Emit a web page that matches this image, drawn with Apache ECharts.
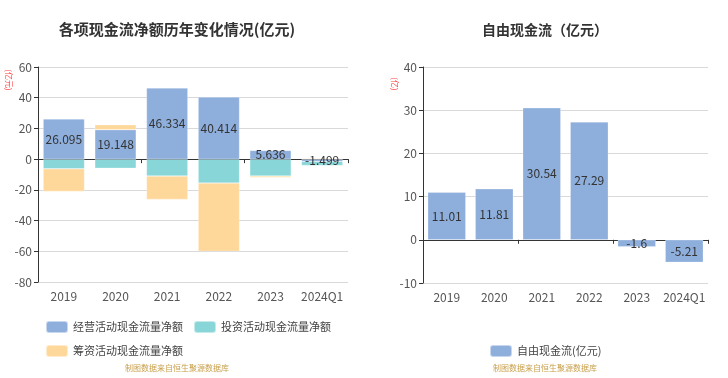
<!DOCTYPE html>
<html>
<head>
<meta charset="utf-8">
<script src="https://cdn.jsdelivr.net/npm/echarts@6/dist/echarts.min.js"></script>
<style>
html,body{margin:0;padding:0;background:#fff;}
#c{width:728px;height:378px;}
</style>
</head>
<body>
<div id="c"></div>
<script>
const categories = ['2019', '2020', '2021', '2022', '2023', '2024Q1'];
const operating = [26.095, 19.148, 46.334, 40.414, 5.636, -1.499];
const investing = [-6.3, -5.9, -11.0, -15.6, -11.0, -2.6];
const financing = [-14.7, 3.3, -15.2, -44.4, -0.9, 0.4];
const fcf = [11.01, 11.81, 30.54, 27.29, -1.6, -5.21];
const leftTicks = { min: -80, max: 60, interval: 20 };
const rightTicks = { min: -10, max: 40, interval: 10 };

const FONT = '"Noto Sans CJK SC", "Noto Sans", sans-serif';
const BLUE = '#8eaedc', TEAL = '#88d6d8', ORANGE = '#fed89b';
const axisLabel = { color: '#555', fontSize: 12, fontFamily: FONT };

const chart = echarts.init(document.getElementById('c'));
chart.setOption({
  animation: false,
  textStyle: { fontFamily: FONT },
  title: [
    { text: '各项现金流净额历年变化情况(亿元)', left: 172, top: 17, textAlign: 'center',
      textStyle: { fontSize: 15, fontWeight: 'bold', color: '#333', fontFamily: FONT } },
    { text: '自由现金流（亿元）', left: 540, top: 18, textAlign: 'center',
      textStyle: { fontSize: 14, fontWeight: 'bold', color: '#333', fontFamily: FONT } },
    { text: '制图数据来自恒生聚源数据库', left: 172, top: 359, textAlign: 'center',
      textStyle: { fontSize: 8, fontWeight: 'normal', color: '#c9a04c', fontFamily: FONT } },
    { text: '制图数据来自恒生聚源数据库', left: 540, top: 359, textAlign: 'center',
      textStyle: { fontSize: 8, fontWeight: 'normal', color: '#c9a04c', fontFamily: FONT } }
  ],
  graphic: [
    { type: 'text', x: 9, y: 80, rotation: -Math.PI / 2,
      style: { text: '(亿元)', fill: '#ff3b3b', font: '8px ' + FONT, textAlign: 'center', textVerticalAlign: 'middle' } },
    { type: 'text', x: 395, y: 84, rotation: -Math.PI / 2,
      style: { text: '(亿)', fill: '#ff3b3b', font: '8px ' + FONT, textAlign: 'center', textVerticalAlign: 'middle' } }
  ],
  legend: [
    { left: 40, top: 315, width: 300, itemWidth: 22, itemHeight: 12, itemGap: 10,
      icon: 'roundRect',
      textStyle: { fontSize: 11, color: '#444', fontFamily: FONT },
      data: ['经营活动现金流量净额', '投资活动现金流量净额', '筹资活动现金流量净额'] },
    { left: 484, top: 339, itemWidth: 22, itemHeight: 12, icon: 'roundRect',
      textStyle: { fontSize: 11, color: '#444', fontFamily: FONT },
      data: ['自由现金流(亿元)'] }
  ],
  grid: [
    { left: 38, top: 67, width: 310, height: 215 },
    { left: 423, top: 67, width: 285, height: 216 }
  ],
  xAxis: [
    { type: 'category', gridIndex: 0, data: categories, position: 'bottom',
      axisLine: { show: false, onZero: false }, axisTick: { show: false },
      axisLabel: Object.assign({ margin: 8, interval: 0 }, axisLabel) },
    { type: 'category', gridIndex: 0, data: categories, position: 'bottom',
      axisLine: { show: true, onZero: true, lineStyle: { color: '#333' } },
      axisTick: { show: true, length: 4, lineStyle: { color: '#333' } },
      axisLabel: { show: false } },
    { type: 'category', gridIndex: 1, data: categories, position: 'bottom',
      axisLine: { show: false, onZero: false }, axisTick: { show: false },
      axisLabel: Object.assign({ margin: 8, interval: 0 }, axisLabel) },
    { type: 'category', gridIndex: 1, data: categories, position: 'bottom',
      axisLine: { show: true, onZero: true, lineStyle: { color: '#333' } },
      axisTick: { show: true, length: 4, lineStyle: { color: '#333' } },
      axisLabel: { show: false } }
  ],
  yAxis: [
    { type: 'value', gridIndex: 0, min: leftTicks.min, max: leftTicks.max, interval: leftTicks.interval,
      axisLine: { show: true, lineStyle: { color: '#333' } },
      axisTick: { show: true, length: 4, lineStyle: { color: '#333' } },
      axisLabel: Object.assign({ margin: 6 }, axisLabel),
      splitLine: { lineStyle: { color: '#d9d9d9' } } },
    { type: 'value', gridIndex: 1, min: rightTicks.min, max: rightTicks.max, interval: rightTicks.interval,
      axisLine: { show: true, lineStyle: { color: '#333' } },
      axisTick: { show: true, length: 4, lineStyle: { color: '#333' } },
      axisLabel: Object.assign({ margin: 6 }, axisLabel),
      splitLine: { lineStyle: { color: '#d9d9d9' } } }
  ],
  series: [
    { name: '经营活动现金流量净额', type: 'bar', stack: 'cf', xAxisIndex: 0, yAxisIndex: 0,
      data: operating, barWidth: '80%',
      itemStyle: { color: BLUE, borderColor: 'rgba(255,255,255,0.5)', borderWidth: 0.5 },
      label: { show: true, position: 'inside', color: '#333', fontSize: 12, fontFamily: FONT } },
    { name: '投资活动现金流量净额', type: 'bar', stack: 'cf', xAxisIndex: 0, yAxisIndex: 0,
      data: investing, barWidth: '80%',
      itemStyle: { color: TEAL, borderColor: 'rgba(255,255,255,0.5)', borderWidth: 0.5 } },
    { name: '筹资活动现金流量净额', type: 'bar', stack: 'cf', xAxisIndex: 0, yAxisIndex: 0,
      data: financing, barWidth: '80%',
      itemStyle: { color: ORANGE, borderColor: 'rgba(255,255,255,0.5)', borderWidth: 0.5 } },
    { name: '自由现金流(亿元)', type: 'bar', xAxisIndex: 2, yAxisIndex: 1,
      data: fcf, barWidth: '80%',
      itemStyle: { color: BLUE, borderColor: 'rgba(255,255,255,0.5)', borderWidth: 0.5 },
      label: { show: true, position: 'inside', color: '#333', fontSize: 12, fontFamily: FONT } }
  ]
});
</script>
</body>
</html>
